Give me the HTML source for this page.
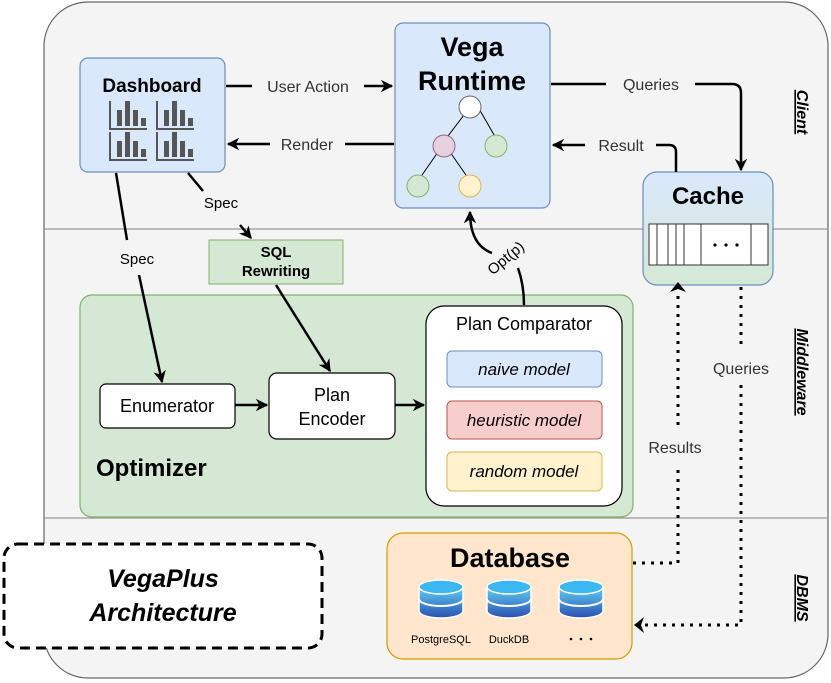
<!DOCTYPE html>
<html><head><meta charset="utf-8"><style>
html,body{margin:0;padding:0;background:#fff}
svg{display:block}
text{font-family:"Liberation Sans",Arial,sans-serif}
</style></head><body>
<svg width="831" height="683" viewBox="0 0 831 683" xmlns="http://www.w3.org/2000/svg">
<defs>
<marker id="ar" viewBox="0 0 10 10" refX="9" refY="5" markerWidth="5" markerHeight="5" orient="auto-start-reverse" markerUnits="strokeWidth"><path d="M0,0 L10,5 L0,10 L3,5 z" fill="#000"/></marker>
<linearGradient id="cg" x1="0" y1="0" x2="0" y2="1"><stop offset="0" stop-color="#dae8fc"/><stop offset="1" stop-color="#d5e8d4"/></linearGradient>
<linearGradient id="dbg" x1="0" y1="0" x2="0" y2="1"><stop offset="0" stop-color="#5fd0f5"/><stop offset="1" stop-color="#2a4fb0"/></linearGradient>
<g id="chart" fill="#555"><path d="M0,0 V27 H36 V29 H-2 V0 z"/><rect x="6" y="9" width="5" height="16"/><rect x="14" y="0" width="5" height="25"/><rect x="22" y="9" width="5" height="16"/><rect x="30" y="17" width="5" height="8"/></g>
<g id="cyl"><path d="M-22,6 V30 A22,7 0 0 0 22,30 V6 z" fill="url(#dbg)" stroke="#fff" stroke-width="1.5"/><path d="M-22,18 A22,7 0 0 0 22,18" fill="none" stroke="#fff" stroke-width="2"/><ellipse cx="0" cy="6" rx="22" ry="7" fill="#3bb8f0" stroke="#fff" stroke-width="1.5"/></g>
</defs>
<rect x="44" y="2" width="784" height="676" rx="44" fill="#f4f4f4" stroke="#666" stroke-width="1.2"/>
<line x1="44" y1="229" x2="828" y2="229" stroke="#999" stroke-width="1.2"/>
<line x1="44" y1="518" x2="828" y2="518" stroke="#999" stroke-width="1.2"/>
<g font-weight="bold" font-style="italic" font-size="16" text-decoration="underline">
<text transform="translate(797,112) rotate(90)" text-anchor="middle">Client</text>
<text transform="translate(797,372) rotate(90)" text-anchor="middle">Middleware</text>
<text transform="translate(797,598) rotate(90)" text-anchor="middle">DBMS</text>
</g>
<rect x="80" y="58" width="145" height="114" rx="8" fill="#dae8fc" stroke="#6c8ebf" stroke-width="1.2"/>
<text x="152" y="92" text-anchor="middle" font-weight="bold" font-size="19">Dashboard</text>
<use href="#chart" x="111" y="101"/><use href="#chart" x="158" y="101"/>
<use href="#chart" x="111" y="132"/><use href="#chart" x="158" y="132"/>
<rect x="395" y="23" width="155" height="185" rx="8" fill="#dae8fc" stroke="#6c8ebf" stroke-width="1.2"/>
<text x="472" y="56" text-anchor="middle" font-weight="bold" font-size="27">Vega</text>
<text x="472" y="90" text-anchor="middle" font-weight="bold" font-size="27">Runtime</text>
<g stroke="#000" stroke-width="1"><line x1="470" y1="107" x2="445" y2="140"/><line x1="478" y1="107" x2="497" y2="140"/><line x1="438" y1="152" x2="420" y2="178"/><line x1="450" y1="152" x2="468" y2="178"/></g>
<circle cx="470" cy="107" r="11" fill="#fff" stroke="#666"/>
<circle cx="444" cy="146" r="11" fill="#e6d0de" stroke="#996185"/>
<circle cx="496" cy="146" r="11" fill="#d5e8d4" stroke="#82b366"/>
<circle cx="418" cy="186" r="11" fill="#d5e8d4" stroke="#82b366"/>
<circle cx="470" cy="186" r="11" fill="#fff2cc" stroke="#d6b656"/>
<rect x="643" y="172" width="130" height="113" rx="14" fill="url(#cg)" stroke="#6c8ebf" stroke-width="1.2"/>
<text x="708" y="204" text-anchor="middle" font-weight="bold" font-size="24">Cache</text>
<rect x="649" y="224" width="119" height="41" fill="#fff" stroke="#333"/>
<g stroke="#333"><line x1="657" y1="224" x2="657" y2="265"/><line x1="668" y1="224" x2="668" y2="265"/><line x1="676" y1="224" x2="676" y2="265"/><line x1="684" y1="224" x2="684" y2="265"/><line x1="701" y1="224" x2="701" y2="265"/><line x1="751" y1="224" x2="751" y2="265"/></g>
<g fill="#000"><circle cx="715" cy="245" r="1.6"/><circle cx="726" cy="245" r="1.6"/><circle cx="737" cy="245" r="1.6"/></g>
<rect x="80" y="295" width="553" height="222" rx="12" fill="#d5e8d4" stroke="#82b366" stroke-width="1.2"/>
<text x="96" y="476" font-weight="bold" font-size="24">Optimizer</text>
<rect x="209" y="240" width="134" height="44" fill="#d5e8d4" stroke="#82b366"/>
<text x="276" y="257" text-anchor="middle" font-weight="bold" font-size="15">SQL</text>
<text x="276" y="276" text-anchor="middle" font-weight="bold" font-size="15">Rewriting</text>
<rect x="100" y="384" width="135" height="44" rx="6" fill="#fff" stroke="#000" stroke-width="1.2"/>
<text x="167" y="400" dy="12" text-anchor="middle" font-size="18">Enumerator</text>
<rect x="269" y="373" width="126" height="66" rx="8" fill="#fff" stroke="#000" stroke-width="1.2"/>
<text x="332" y="401" text-anchor="middle" font-size="18">Plan</text>
<text x="332" y="425" text-anchor="middle" font-size="18">Encoder</text>
<rect x="426" y="306" width="196" height="200" rx="18" fill="#fff" stroke="#000" stroke-width="1.2"/>
<text x="524" y="330" text-anchor="middle" font-size="18">Plan Comparator</text>
<rect x="447" y="351" width="155" height="36" rx="5" fill="#dae8fc" stroke="#6c8ebf"/>
<text x="524" y="375" text-anchor="middle" font-size="17" font-style="italic">naive model</text>
<rect x="447" y="401" width="155" height="38" rx="5" fill="#f8cecc" stroke="#b85450"/>
<text x="524" y="426" text-anchor="middle" font-size="17" font-style="italic">heuristic model</text>
<rect x="447" y="452" width="155" height="39" rx="5" fill="#fff2cc" stroke="#d6b656"/>
<text x="524" y="477" text-anchor="middle" font-size="17" font-style="italic">random model</text>
<rect x="387" y="533" width="245" height="126" rx="16" fill="#ffe6cc" stroke="#d79b00" stroke-width="1.2"/>
<text x="510" y="567" text-anchor="middle" font-weight="bold" font-size="27">Database</text>
<use href="#cyl" x="441" y="581"/><use href="#cyl" x="509" y="581"/><use href="#cyl" x="581" y="581"/>
<g font-size="11" text-anchor="middle"><text x="441" y="643">PostgreSQL</text><text x="509" y="643">DuckDB</text></g>
<g fill="#000"><circle cx="571" cy="639" r="1.3"/><circle cx="581" cy="639" r="1.3"/><circle cx="591" cy="639" r="1.3"/></g>
<rect x="4" y="544" width="318" height="104" rx="14" fill="#fff" stroke="#000" stroke-width="3" stroke-dasharray="10,6"/>
<g font-weight="bold" font-style="italic" font-size="25" text-anchor="middle"><text x="163" y="587">VegaPlus</text><text x="163" y="621">Architecture</text></g>
<g stroke="#000" stroke-width="2.5" fill="none">
<line x1="226" y1="86" x2="252" y2="86"/><line x1="364" y1="86" x2="392" y2="86" marker-end="url(#ar)"/>
<line x1="394" y1="144" x2="345" y2="144"/><line x1="270" y1="144" x2="228" y2="144" marker-end="url(#ar)"/>
<path d="M551,84 H606"/><path d="M695,84 H732 Q741,84 741,93 V170" marker-end="url(#ar)"/>
<path d="M676,172 V152 Q676,145 669,145 H656"/><path d="M585,145 H553" marker-end="url(#ar)"/>
<line x1="116" y1="173" x2="127" y2="240"/><line x1="139" y1="275" x2="162" y2="382" marker-end="url(#ar)"/>
<line x1="188" y1="173" x2="203" y2="191"/><line x1="240" y1="225" x2="251" y2="238" marker-end="url(#ar)"/>
<line x1="276" y1="285" x2="330" y2="371" marker-end="url(#ar)"/>
<line x1="235" y1="405" x2="267" y2="405" marker-end="url(#ar)"/>
<line x1="395" y1="405" x2="424" y2="405" marker-end="url(#ar)"/>
<path d="M492,253 Q470,245 470,212" marker-end="url(#ar)"/>
<path d="M518,268 Q524,285 524,305"/>
</g>
<g stroke="#000" stroke-width="3" fill="none" stroke-dasharray="3,6">
<path d="M633,563 H678 V470"/><path d="M678,425 V290"/>
<path d="M741,287 V350"/><path d="M741,385 V625 H640"/>
</g>
<path d="M670,292 L678,282 L686,292 L678,289 z" fill="#000"/>
<path d="M644,617 L634,625 L644,633 L641,625 z" fill="#000"/>
<g font-size="16" fill="#333" text-anchor="middle">
<text x="308" y="92">User Action</text>
<text x="307" y="150">Render</text>
<text x="651" y="90">Queries</text>
<text x="621" y="151">Result</text>
<text x="675" y="453">Results</text>
<text x="741" y="374">Queries</text>
</g>
<g font-size="15" fill="#000" text-anchor="middle">
<text x="137" y="264">Spec</text>
<text x="221" y="208">Spec</text>
<text transform="translate(509,262) rotate(-40)">Opt(p)</text>
</g>
</svg>
</body></html>
